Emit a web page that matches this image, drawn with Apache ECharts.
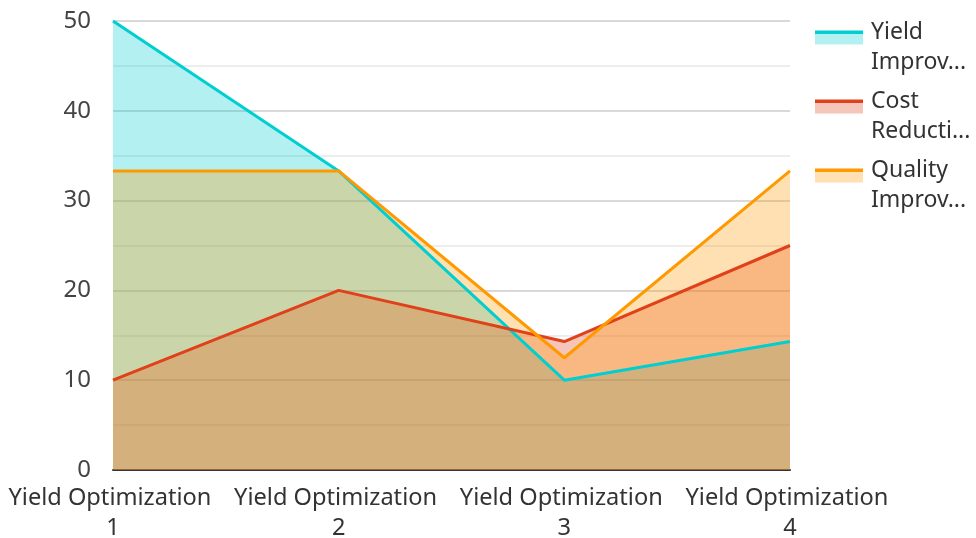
<!DOCTYPE html>
<html>
<head>
<meta charset="utf-8">
<title>Yield chart</title>
<script src="https://cdn.jsdelivr.net/npm/echarts@6/dist/echarts.min.js"></script>
<style>
  html, body { margin: 0; padding: 0; background: #fff; }
  #main { width: 976px; height: 538px; }
</style>
</head>
<body>
<div id="main"></div>
<script>
  // data
  var categories = ['Yield Optimization 1', 'Yield Optimization 2', 'Yield Optimization 3', 'Yield Optimization 4'];
  var seriesNames = ['Yield Improvement', 'Cost Reduction', 'Quality Improvement'];
  var yieldImprovement = [50, 33.3, 10, 14.3];
  var costReduction = [10, 20, 14.3, 25];
  var qualityImprovement = [33.3, 33.3, 12.5, 33.3];
  var colors = ['#00CED1', '#E0401A', '#FF9900'];

  var font = 'Noto Sans';

  function makeSeries(name, values, color) {
    return {
      name: name,
      type: 'line',
      data: values,
      showSymbol: false,
      lineStyle: { width: 3, color: color },
      itemStyle: { color: color },
      areaStyle: { color: color, opacity: 0.3 }
    };
  }

  // legend swatch: solid line on top, pale area below
  function legendIcon(color) {
    var pale = echarts.color.modifyAlpha(color, 0.3);
    return new echarts.graphic.LinearGradient(0, 0, 0, 1, [
      { offset: 0, color: color },
      { offset: 0.22, color: color },
      { offset: 0.22, color: pale },
      { offset: 1, color: pale }
    ]);
  }

  var myChart = echarts.init(document.getElementById('main'));
  var option = {
    color: colors,
    animation: false,
    textStyle: { fontFamily: font },
    grid: { left: 113, right: 186, top: 21, bottom: 68, outerBoundsMode: 'none' },
    legend: {
      orient: 'vertical',
      left: 815,
      top: -2,
      padding: 0,
      itemWidth: 48,
      itemHeight: 14,
      itemGap: -10,
      data: seriesNames.map(function (n, i) {
        return { name: n, icon: 'rect', itemStyle: { color: legendIcon(colors[i]), borderWidth: 0 } };
      }),
      // spacer line pushes the wrapped name down a little, as in the original
      formatter: function (name) { return '{s| }\n' + name.replace(' ', '\n'); },
      textStyle: {
        fontFamily: font,
        fontSize: 23,
        color: '#333',
        width: 104,
        overflow: 'truncate',
        lineHeight: 30,
        padding: [0, 0, 0, 3],
        rich: { s: { fontSize: 10, lineHeight: 19 } }
      }
    },
    xAxis: {
      type: 'category',
      data: categories,
      boundaryGap: false,
      axisLine: { lineStyle: { color: '#333', width: 2 } },
      axisTick: { show: false },
      axisLabel: {
        interval: 0,
        fontFamily: font,
        fontSize: 23.6,
        color: '#333',
        width: 220,
        overflow: 'break',
        lineHeight: 30,
        margin: 13
      }
    },
    yAxis: {
      type: 'value',
      min: 0,
      max: 50,
      interval: 10,
      axisLine: { show: false },
      axisTick: { show: false },
      axisLabel: { fontFamily: font, fontSize: 24, color: '#444', margin: 22 },
      splitLine: { lineStyle: { color: '#ccc', width: 1.5 } },
      minorTick: { show: false, splitNumber: 2 },
      minorSplitLine: { show: true, lineStyle: { color: '#e8e8e8', width: 1.5 } }
    },
    series: [
      makeSeries(seriesNames[0], yieldImprovement, colors[0]),
      makeSeries(seriesNames[1], costReduction, colors[1]),
      makeSeries(seriesNames[2], qualityImprovement, colors[2])
    ]
  };
  myChart.setOption(option);
</script>
</body>
</html>
